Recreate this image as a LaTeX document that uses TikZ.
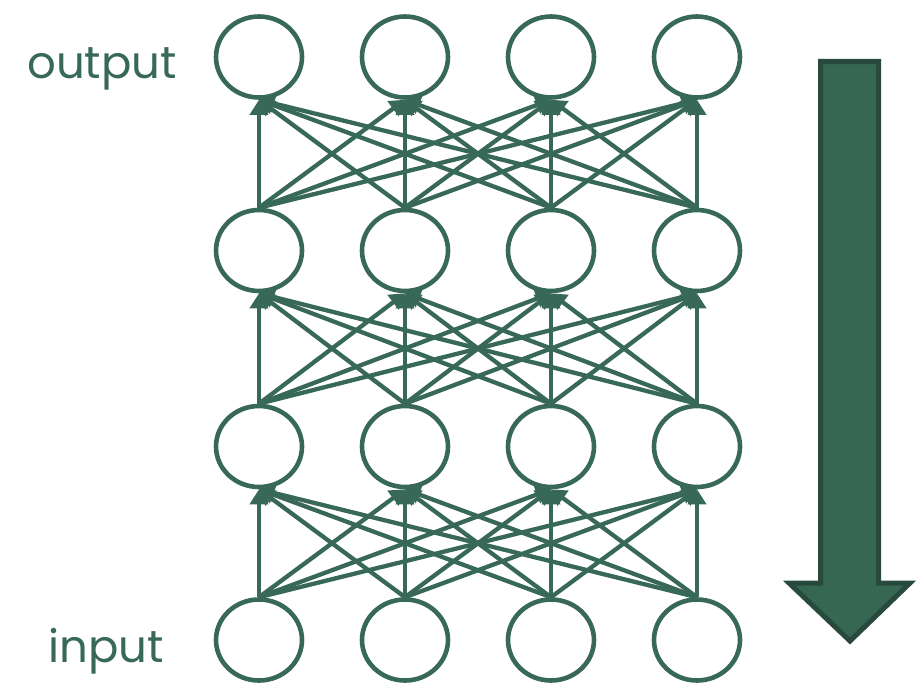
\documentclass[tikz,border=0pt]{standalone}
\usepackage{fontspec}
\setmainfont{Poppins}
\usetikzlibrary{shapes.geometric,arrows.meta}
\definecolor{netgreen}{RGB}{55,104,88}
\definecolor{arrowfill}{RGB}{54,102,84}
\definecolor{arrowedge}{RGB}{40,74,61}
\begin{document}
\begin{tikzpicture}[x=1pt,y=-1pt,
  neuron/.style={ellipse,draw=netgreen,line width=4.6pt,fill=white,
    minimum width=86pt,minimum height=81pt,inner sep=0pt},
  link/.style={draw=netgreen,line width=4.3pt,
    -{Triangle[length=15pt,width=18pt]}},
  layerlabel/.style={text=netgreen,anchor=base west,inner sep=0pt,
    font=\fontsize{45}{50}\selectfont}]
\useasboundingbox (0,0) rectangle (920,685);
% neurons, rows from top (output) to bottom (input)
\foreach \r/\yy in {1/57,2/250.5,3/446.5,4/640}{
  \foreach \c/\xx in {1/259,2/405,3/551,4/697}{
    \node[neuron] (n\r\c) at (\xx,\yy) {};
  }
}
% fully connected links between consecutive layers
\foreach \lo/\hi in {4/3,3/2,2/1}{
  \foreach \i in {1,...,4}{
    \foreach \j in {1,...,4}{
      \draw[link] (n\lo\i.north) -- (n\hi\j.south);
    }
  }
}
% layer labels
\node[layerlabel] (outlbl) at (27,78) {output};
\node[layerlabel] (inlbl) at (48,662) {input};
% direction arrow
\draw[fill=arrowfill,draw=arrowedge,line width=5pt,line join=miter]
  (820.5,61.5) -- (878.5,61.5) -- (878.5,583) -- (910,583) -- (850,641)
  -- (789,583) -- (820.5,583) -- cycle;
\end{tikzpicture}
\end{document}
